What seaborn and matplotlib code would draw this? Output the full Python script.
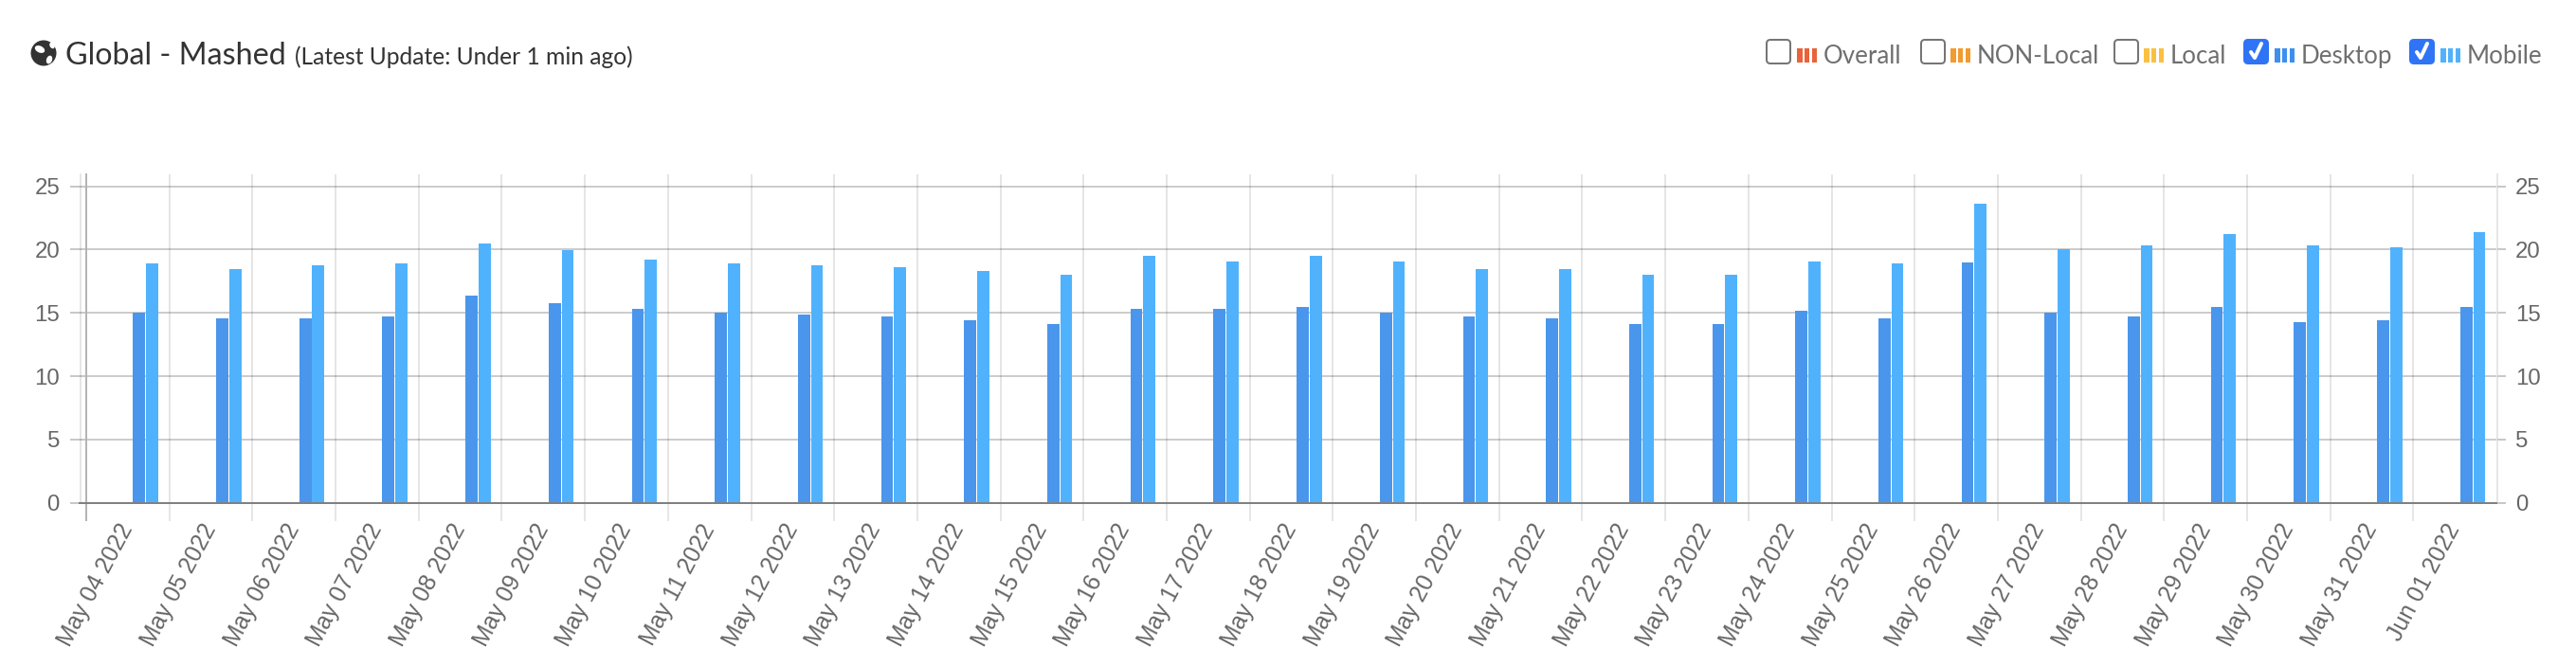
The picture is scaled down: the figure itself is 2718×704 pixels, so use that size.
import numpy as np
import pandas as pd
import matplotlib.pyplot as plt
import seaborn as sns
from matplotlib.patches import Circle, Ellipse, FancyBboxPatch, Rectangle
from matplotlib.transforms import ScaledTranslation

dates = ['May 04 2022', 'May 05 2022', 'May 06 2022', 'May 07 2022', 'May 08 2022', 'May 09 2022',
         'May 10 2022', 'May 11 2022', 'May 12 2022', 'May 13 2022', 'May 14 2022', 'May 15 2022',
         'May 16 2022', 'May 17 2022', 'May 18 2022', 'May 19 2022', 'May 20 2022', 'May 21 2022',
         'May 22 2022', 'May 23 2022', 'May 24 2022', 'May 25 2022', 'May 26 2022', 'May 27 2022',
         'May 28 2022', 'May 29 2022', 'May 30 2022', 'May 31 2022', 'Jun 01 2022']
desktop = [15.05, 14.6, 14.6, 14.75, 16.35, 15.8, 15.35, 15.05, 14.9, 14.75, 14.45, 14.15,
           15.35, 15.35, 15.5, 15.05, 14.75, 14.6, 14.15, 14.15, 15.2, 14.6, 19.0, 15.05,
           14.75, 15.5, 14.3, 14.45, 15.5]
mobile = [18.9, 18.45, 18.75, 18.9, 20.5, 19.95, 19.2, 18.9, 18.75, 18.6, 18.3, 18.0,
          19.5, 19.05, 19.5, 19.05, 18.45, 18.45, 18.0, 18.0, 19.05, 18.9, 23.65, 20.05,
          20.35, 21.25, 20.35, 20.2, 21.4]

series_names = ['Overall', 'NON-Local', 'Local', 'Desktop', 'Mobile']
series_on = [False, False, False, True, True]
series_colors = ['#E8623A', '#F29B2E', '#FBC041', '#4A96EC', '#50B2FD']
swatch_colors = ['#E8623A', '#F29B2E', '#FBC041', '#3D8FEF', '#50B2FD']
yticks = [0, 5, 10, 15, 20, 25]

W, H = 2718, 704
PX = 0.72  # points per pixel at dpi 100

sns.set_theme(style='white')
plt.rcParams['font.family'] = ['Liberation Sans', 'DejaVu Sans']

df = pd.DataFrame({
    'date': dates * 2,
    'series': ['Desktop'] * len(dates) + ['Mobile'] * len(dates),
    'value': desktop + mobile,
})

fig = plt.figure(figsize=(W / 100, H / 100), dpi=100, facecolor='white')
ax = fig.add_axes([91 / W, (H - 530.7) / H, (2635 - 91) / W, (530.7 - 184) / H])

# hidden series still hold their slot, which pushes the bars right of the tick
sns.barplot(data=df, x='date', y='value', hue='series', hue_order=series_names,
            palette=dict(zip(series_names, series_colors)), order=dates, width=0.78, gap=0.07,
            saturation=1, linewidth=0, errorbar=None, legend=False, ax=ax)

ax.set_xlim(-0.48, 28.53)
ax.set_ylim(0, 25.95)
ax.set_xlabel('')
ax.set_ylabel('')
ax.set_axisbelow(True)

ax.set_yticks(yticks)
ax.grid(True, axis='y', color='black', alpha=0.2, linewidth=2 * PX)
ax.tick_params(axis='y', left=True, length=17 * PX, width=2 * PX, color='#c8c8c8', pad=11 * PX,
               labelsize=17.3, labelcolor='#666666')

# category borders as minor ticks, so the lines run down past the baseline
ax.set_xticks(np.arange(1, 29) - 0.48, minor=True)
ax.grid(True, axis='x', which='minor', color='black', alpha=0.1, linewidth=2 * PX)
ax.grid(False, axis='x', which='major')
ax.tick_params(axis='x', which='minor', bottom=True, length=19 * PX, width=2 * PX, color='#e6e6e6')
ax.tick_params(axis='x', which='major', bottom=False, length=0, pad=24 * PX, labelsize=17.7,
               labelcolor='#666666')
ax.set_xticks(range(len(dates)))
ax.set_xticklabels(dates, rotation=62, ha='right', va='center', rotation_mode='anchor')
shift = ScaledTranslation(1.5 / 100, 0, fig.dpi_scale_trans)
for label in ax.get_xticklabels():
    label.set_transform(label.get_transform() + shift)

ax.spines['top'].set_visible(False)
ax.spines['right'].set_color('#e6e6e6')
ax.spines['right'].set_linewidth(2 * PX)
ax.spines['left'].set_color('#b4b4b4')
ax.spines['left'].set_linewidth(2 * PX)
ax.spines['left'].set_bounds(-1.4, 25.95)
ax.spines['bottom'].set_color('#808080')
ax.spines['bottom'].set_linewidth(2 * PX)
ax.spines['bottom'].set_bounds(-0.56, 28.53)
ax.axvline(-0.545, color='black', alpha=0.1, linewidth=2 * PX, clip_on=False)

right = ax.twinx()
right.set_ylim(ax.get_ylim())
right.set_yticks(yticks)
right.grid(False)
right.tick_params(axis='y', right=True, length=9 * PX, width=2 * PX, color='#c8c8c8', pad=10 * PX,
                  labelsize=17.3, labelcolor='#666666')
for spine in right.spines.values():
    spine.set_visible(False)

# header drawn on a pixel-sized overlay
top = fig.add_axes([0, 0, 1, 1], facecolor='none')
top.set_xlim(0, W)
top.set_ylim(H, 0)
top.axis('off')

top.add_patch(Circle((46, 56), 13.5, color='#333333', lw=0))
top.add_patch(Ellipse((42, 52), 11, 7, angle=25, color='white', lw=0))
top.add_patch(Ellipse((52, 63), 6, 9, angle=20, color='white', lw=0))
top.add_patch(Ellipse((55, 48), 5, 7, angle=-30, color='white', lw=0))

header_font = ['Lato', 'DejaVu Sans']
top.text(69, 67.5, 'Global - Mashed', fontsize=23.2, color='#333333', family=header_font, va='baseline')
top.text(311, 67.5, '(Latest Update: Under 1 min ago)', fontsize=17.7, color='#333333',
         family=header_font, va='baseline')

box_x = [1864, 2027, 2231, 2368, 2543]
swatch_x = [1896, 2058, 2262, 2400, 2575]
label_x = [1924, 2086, 2290, 2428, 2603]
for name, on, color, bx, sx, lx in zip(series_names, series_on, swatch_colors, box_x, swatch_x, label_x):
    face = '#2F74F5' if on else 'white'
    edge = '#2F74F5' if on else '#757575'
    top.add_patch(FancyBboxPatch((bx + 3, 45), 19, 19, boxstyle='round,pad=3,rounding_size=4',
                                 facecolor=face, edgecolor=edge, linewidth=2 * PX))
    if on:
        top.plot([bx + 7, bx + 11, bx + 18], [55, 61, 46], color='white', linewidth=4 * PX,
                 solid_capstyle='round')
    for k in range(3):
        top.add_patch(Rectangle((sx + k * 7.8, 51), 5.6, 15, color=color, lw=0))
    top.text(lx, 67, name, fontsize=18.6, color='#6f6f6f', family=header_font, va='baseline')

fig.savefig('out.png', dpi=100)
